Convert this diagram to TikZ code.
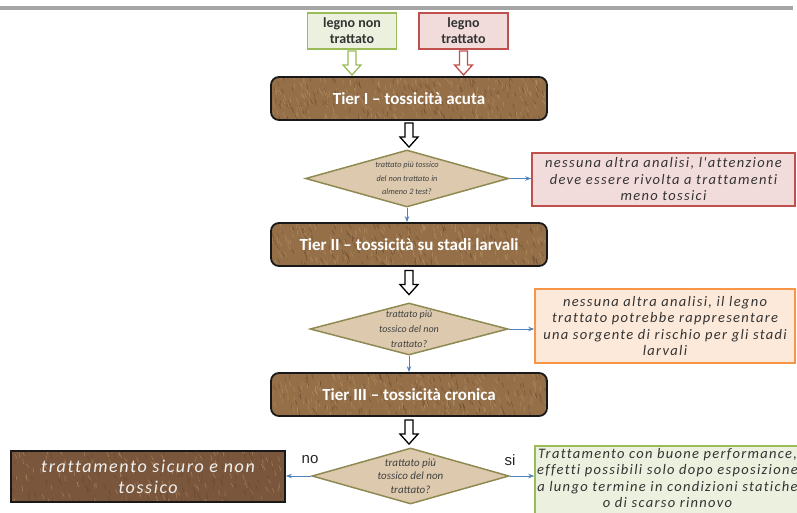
\documentclass[tikz,border=0pt]{standalone}
\usepackage{fontspec}
\setmainfont{Carlito}
\newfontfamily\infofont[LetterSpace=9,Ligatures=NoCommon]{Carlito}
\newfontfamily\arialf{Liberation Sans}
\usetikzlibrary{shapes.geometric,arrows.meta,calc}

\definecolor{woodbase}{HTML}{946F48}
\definecolor{woodlight}{HTML}{C49E6E}
\definecolor{wooddark}{HTML}{5A3D24}
\definecolor{darkwood}{HTML}{7A573C}
\definecolor{barcol}{HTML}{A5A5A5}
\definecolor{gborder}{HTML}{9BBB59}
\definecolor{gfill}{HTML}{EBF1DE}
\definecolor{rborder}{HTML}{C0504D}
\definecolor{rfill}{HTML}{F2DCDB}
\definecolor{oborder}{HTML}{F79646}
\definecolor{ofill}{HTML}{FDE9D9}
\definecolor{diafill}{HTML}{DDCAAE}
\definecolor{diaborder}{HTML}{8E8A52}
\definecolor{conncol}{HTML}{4F81BD}
\definecolor{txtdark}{HTML}{333333}

\newcommand\woodstreaks[3]{%
  \foreach \i in {1,...,#1}{%
    \pgfmathsetmacro\dx{(rnd-0.5)*300}%
    \pgfmathsetmacro\dy{(rnd-0.5)*60}%
    \pgfmathsetmacro\ang{55+40*rnd}%
    \draw[#2, line width=0.6pt, opacity=0.5]
      (path picture bounding box.center) ++(\dx,\dy) -- ++(\ang:#3);
  }%
}

\begin{document}
\pgfmathsetseed{7}
\begin{tikzpicture}[x=1pt,y=-1pt,
  tier/.style={draw=black!90, line width=1.8pt, rounded corners=8pt, fill=woodbase,
    minimum width=276pt, minimum height=43pt, inner sep=0pt, text=white,
    font=\fontsize{17}{20}\selectfont\bfseries,
    path picture={\woodstreaks{320}{woodlight}{5}\woodstreaks{220}{wooddark}{5}}},
  srcbox/.style={line width=1.6pt, minimum width=89pt, minimum height=36pt, inner sep=0pt,
    align=center, text=txtdark, font=\fontsize{14}{16}\selectfont\bfseries},
  dia/.style={diamond, draw=diaborder, fill=diafill, line width=1.5pt, inner sep=0pt},
  diatext/.style={align=center, text=black!75},
  info/.style={line width=1.6pt, inner sep=0pt, align=center, text=txtdark,
    font=\fontsize{14.5}{16.5}\selectfont\infofont\itshape},
  hollow/.pic={\draw[pic actions, fill=white, line width=1.3pt, miter limit=4]
    (-4,-12) -- (4,-12) -- (4,2) -- (9,2) -- (0,12) -- (-9,2) -- (-4,2) -- cycle;},
  conn/.style={draw=conncol, line width=0.9pt, -{Stealth[length=6pt,width=4.5pt]}},
  yn/.style={font=\fontsize{15}{18}\selectfont\arialf, text=black!85}
]
\useasboundingbox (0,0) rectangle (797,513);
\clip (0,0) rectangle (797,513);

% top grey bar
\fill[barcol] (0,6) rectangle (793,10);

% source boxes
\node[srcbox, draw=gborder, fill=gfill] (lg) at (352,31) {legno non\\trattato};
\node[srcbox, draw=rborder, fill=rfill] (lt) at (463.5,31) {legno\\trattato};

% tiers
\node[tier] (t1) at (409,98.5) {Tier I -- tossicità acuta};
\node[tier] (t2) at (409,244.5) {Tier II -- tossicità su stadi larvali};
\node[tier] (t3) at (409,394.5) {Tier III -- tossicità cronica};

% diamonds
\node[dia, minimum width=203pt, minimum height=57pt] (d1) at (407,178.5) {};
\node[diatext, font=\fontsize{8.3}{13.5}\selectfont\itshape] (d1t) at (d1) {trattato più tossico\\del non trattato in\\almeno 2 test?};
\node[dia, minimum width=198pt, minimum height=52pt] (d2) at (409,329) {};
\node[diatext, font=\fontsize{10}{15}\selectfont\itshape] (d2t) at (d2) {trattato più\\tossico del non\\trattato?};
\node[dia, minimum width=197pt, minimum height=56pt] (d3) at (410.5,476) {};
\node[diatext, font=\fontsize{11}{13.5}\selectfont\itshape] (d3t) at (d3) {trattato più\\tossico del non\\trattato?};

% outcome boxes
\node[info, draw=rborder, fill=rfill, minimum width=263pt, minimum height=53pt] (rb) at (663.5,179.5)
  {nessuna altra analisi, l'attenzione\\deve essere rivolta a trattamenti\\meno tossici};
\node[info, draw=oborder, fill=ofill, minimum width=260pt, minimum height=74pt] (ob) at (665,326)
  {nessuna altra analisi, il legno\\trattato potrebbe rappresentare\\una sorgente di rischio per gli stadi\\larvali};
\node[info, draw=gborder, fill=gfill, minimum width=265pt, minimum height=85pt, anchor=north] (gb) at (667.5,445) {};
\node[info, anchor=north, text=txtdark] (gbt) at (667.5,447.5)
  {Trattamento con buone performance,\\effetti possibili solo dopo esposizione\\a lungo termine in condizioni statiche\\o di scarso rinnovo};
\node[draw=black!90, line width=1.8pt, fill=darkwood, minimum width=274pt, minimum height=51pt,
  inner sep=0pt, align=center, text=white!94!black,
  font=\fontsize{18}{21}\selectfont\infofont\itshape,
  path picture={\woodstreaks{150}{woodlight}{5}\woodstreaks{150}{wooddark}{5}}] (lb) at (148,476.5)
  {trattamento sicuro e non\\tossico};

% hollow arrows
\pic[draw=gborder] at ($(lg.south)!0.5!(lg.south |- t1.north)$) {hollow};
\pic[draw=rborder] at ($(lt.south)!0.5!(lt.south |- t1.north)$) {hollow};
\pic[draw=black] at ($(t1.south)!0.5!(t1.south |- d1.north)$) {hollow};
\pic[draw=black] at ($(t2.south)!0.5!(t2.south |- d2.north)+(0,-2)$) {hollow};
\pic[draw=black] at ($(t3.south)!0.5!(t3.south |- d3.north)$) {hollow};

% connectors
\draw[conn] (d1.east) -- (d1.east -| rb.west);
\draw[conn] (d1.south) -- (d1.south |- t2.north);
\draw[conn] (d2.east) -- (d2.east -| ob.west);
\draw[conn] (d2.south) -- (d2.south |- t3.north);
\draw[conn] (d3.west) -- (d3.west -| lb.east);
\draw[conn] (d3.east) -- (d3.east -| gb.west);

% labels
\node[yn] (no) at (310,460) {no};
\node[yn] (si) at (510,460) {si};
\end{tikzpicture}
\end{document}
